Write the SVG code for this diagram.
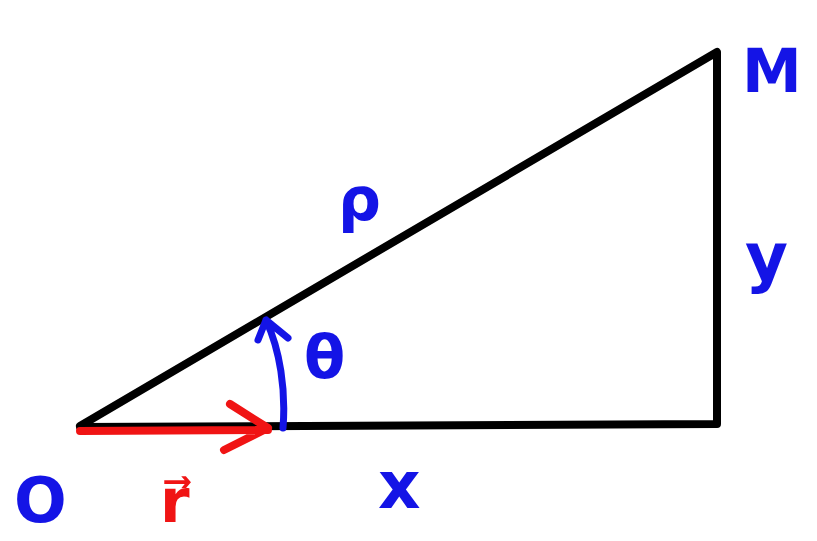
<svg xmlns="http://www.w3.org/2000/svg" width="817" height="541" viewBox="0 0 817 541">
<style>
.lbl{font-family:"DejaVu Sans","Liberation Sans",sans-serif;fill:#1414e6;font-weight:bold;}
.tri{fill:none;stroke:#000;stroke-width:8;stroke-linejoin:round;stroke-linecap:round;}
.red{fill:none;stroke:#f01414;stroke-width:8;stroke-linecap:round;stroke-linejoin:round;}
.blue{fill:none;stroke:#1414e6;stroke-width:7;stroke-linecap:round;stroke-linejoin:round;}
</style>
<rect width="817" height="541" fill="#fff"/>
<g id="connectors">
<path class="tri" d="M80,426 L717,52 L717,424 L80,427"/>
<path class="red" d="M80,431 L268,430 M230,404 L268,428 L224,450"/>
<path class="blue" d="M283,428 C286,390 280,350 266,320 M258,340 L266,320 L288,338"/>
</g>
<g id="label-M"><text class="lbl" x="742" y="92" font-size="60">M</text></g>
<g id="label-rho"><text class="lbl" x="338" y="220" font-size="60">ρ</text></g>
<g id="label-y"><text class="lbl" x="745" y="280" font-size="66">y</text></g>
<g id="label-theta"><text class="lbl" x="304" y="378" font-size="60">θ</text></g>
<g id="label-O"><text class="lbl" x="14" y="522" font-size="62">O</text></g>
<g id="label-x"><text class="lbl" x="378" y="508" font-size="66">x</text></g>
<g id="label-r"><text x="160" y="522" font-size="60" font-weight="bold" font-family="DejaVu Sans,sans-serif" fill="#f01414">r⃗</text></g>
</svg>
